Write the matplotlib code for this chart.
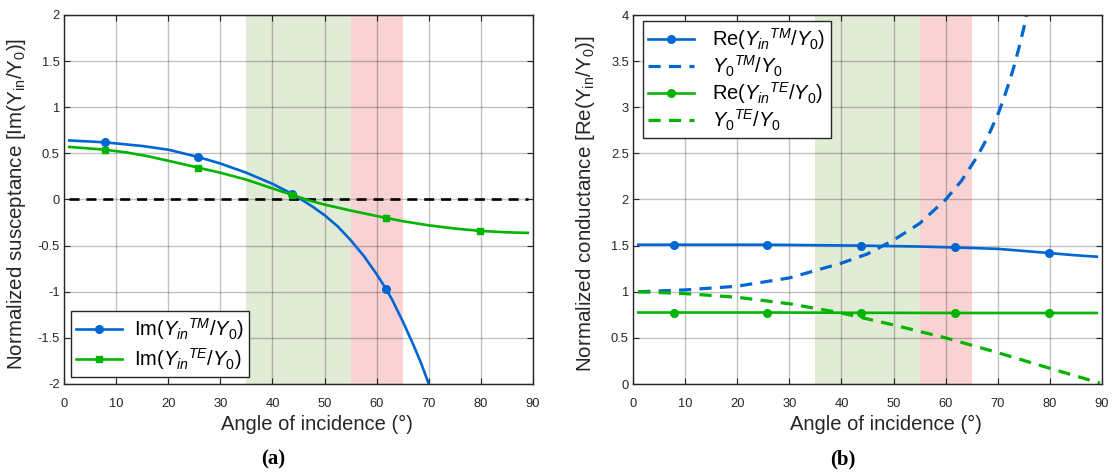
import matplotlib
matplotlib.use("Agg")
import matplotlib.pyplot as plt

plt.rcParams['font.family'] = ['Liberation Sans', 'DejaVu Sans']
plt.rcParams['mathtext.fontset'] = 'custom'
plt.rcParams['mathtext.rm'] = 'Liberation Sans'
plt.rcParams['mathtext.it'] = 'Liberation Sans:italic'
plt.rcParams['mathtext.bf'] = 'Liberation Sans:bold'
plt.rcParams['axes.unicode_minus'] = False

# ---- data ----
# (a) susceptance
im_tm_ang = [1, 7.8, 15, 20, 25.8, 30, 35, 40, 43.8, 45, 47.5, 50, 52.5, 55, 57.5, 60, 61.8, 63, 65, 67, 68.5, 70]
im_tm_val = [0.64, 0.62, 0.58, 0.54, 0.46, 0.39, 0.29, 0.17, 0.06, 0.02, -0.07, -0.17, -0.29, -0.44, -0.61, -0.81,
             -0.97, -1.09, -1.32, -1.57, -1.77, -2.0]
im_te_ang = [1, 7.8, 12, 16, 20, 25.8, 30, 35, 40, 43.8, 47, 50, 55, 61.8, 65, 70, 75, 79.8, 85, 89]
im_te_val = [0.57, 0.54, 0.51, 0.47, 0.42, 0.345, 0.29, 0.215, 0.12, 0.05, -0.01, -0.055, -0.12, -0.2, -0.235,
             -0.28, -0.315, -0.34, -0.356, -0.362]
zero_ang = [1, 89]
zero_val = [0, 0]

# (b) conductance
re_tm_ang = [1, 7.8, 25.8, 43.8, 55, 61.8, 70, 79.8, 85, 89]
re_tm_val = [1.51, 1.51, 1.51, 1.50, 1.49, 1.48, 1.465, 1.42, 1.395, 1.38]
re_te_ang = [1, 7.8, 25.8, 43.8, 61.8, 79.8, 89]
re_te_val = [0.775, 0.775, 0.775, 0.772, 0.77, 0.77, 0.77]
y0_tm_ang = [1, 10, 20, 30, 40, 45, 50, 55, 60, 63, 66, 68, 70, 71, 72, 73, 74, 75, 75.5]
y0_tm_val = [1.0, 1.02, 1.06, 1.15, 1.31, 1.41, 1.56, 1.74, 2.0, 2.2, 2.46, 2.67, 2.92, 3.07, 3.24, 3.42, 3.63,
             3.86, 4.0]
y0_te_ang = [1, 10, 20, 30, 40, 50, 60, 70, 80, 89.6]
y0_te_val = [1.0, 0.98, 0.94, 0.87, 0.77, 0.64, 0.5, 0.34, 0.17, 0.01]
marker_ang = [7.8, 25.8, 43.8, 61.8, 79.8]

green_band = (35, 55)
red_band = (55, 65)

BLUE = '#0066d2'
GREEN = '#00b400'
DARK = '#262626'
DASH = (0, (3.8, 2.6))


def marks(angles):
    return [i for i, a in enumerate(angles) if a in marker_ang]


def style_axes(ax, ylim, yticks, ylabels):
    ax.axvspan(*green_band, color='#e2ebd5', lw=0, zorder=0.5)
    ax.axvspan(*red_band, color='#f9d3d3', lw=0, zorder=0.5)
    ax.set_xlim(0, 90)
    ax.set_ylim(*ylim)
    ax.set_xticks(range(0, 91, 10))
    ax.set_yticks(yticks)
    ax.set_yticklabels(ylabels)
    ax.set_axisbelow('line')
    ax.grid(True, color='black', alpha=0.24, lw=1)
    ax.tick_params(direction='in', top=True, right=True, length=4,
                   labelsize=9.3, colors=DARK)
    ax.tick_params(axis='x', pad=10)
    ax.tick_params(axis='y', pad=3)
    for s in ax.spines.values():
        s.set_color(DARK)
        s.set_linewidth(1)
    ax.set_xlabel('Angle of incidence (°)', fontsize=14.5, color=DARK)
    ax.xaxis.set_label_coords(0.54, -0.085)


def add_legend(ax, loc, anchor, textpad, spacing):
    leg = ax.legend(loc=loc, bbox_to_anchor=anchor, fontsize=14.5, handlelength=2.3,
                    handletextpad=textpad, fancybox=False, framealpha=1,
                    edgecolor=DARK, borderpad=0.25, labelspacing=spacing,
                    borderaxespad=0)
    leg.get_frame().set_linewidth(1)
    return leg


fig = plt.figure(figsize=(11.15, 4.73), dpi=100)
ax1 = fig.add_axes([64 / 1115, 1 - 384 / 473, 469 / 1115, 369 / 473])
ax2 = fig.add_axes([633 / 1115, 1 - 384 / 473, 469 / 1115, 369 / 473])

# ---- (a) ----
style_axes(ax1, (-2, 2), [-2, -1.5, -1, -0.5, 0, 0.5, 1, 1.5, 2],
           ['-2', '-1.5', '-1', '-0.5', '0', '0.5', '1', '1.5', '2'])
ax1.plot(zero_ang, zero_val, color='black', ls=DASH, lw=1.9)
ax1.plot(im_tm_ang, im_tm_val, color=BLUE, lw=1.9, marker='o', ms=5.5,
         markevery=marks(im_tm_ang), label=r'Im($\mathit{Y_{in}{}^{TM}/Y_{0}}$)')
ax1.plot(im_te_ang, im_te_val, color=GREEN, lw=1.9, marker='s', ms=5,
         markevery=marks(im_te_ang), label=r'Im($\mathit{Y_{in}{}^{TE}/Y_{0}}$)')
ax1.set_ylabel(r'Normalized susceptance [Im(Y$_{\mathrm{in}}$/Y$_{\mathrm{0}}$)]',
               fontsize=14.8, color=DARK)
ax1.yaxis.set_label_coords(-0.077, 0.488)
add_legend(ax1, 'lower left', (0.015, 0.019), 0.6, 0.2)

# ---- (b) ----
style_axes(ax2, (0, 4), [0, 0.5, 1, 1.5, 2, 2.5, 3, 3.5, 4],
           ['0', '0.5', '1', '1.5', '2', '2.5', '3', '3.5', '4'])
ax2.plot(re_tm_ang, re_tm_val, color=BLUE, lw=1.9, marker='o', ms=5.5,
         markevery=marks(re_tm_ang), label=r'Re($\mathit{Y_{in}{}^{TM}/Y_{0}}$)')
ax2.plot(y0_tm_ang, y0_tm_val, color=BLUE, lw=2.3, ls=DASH,
         label=r'$\mathit{Y_{0}{}^{TM}/Y_{0}}$')
ax2.plot(re_te_ang, re_te_val, color=GREEN, lw=1.9, marker='o', ms=5.5,
         markevery=marks(re_te_ang), label=r'Re($\mathit{Y_{in}{}^{TE}/Y_{0}}$)')
ax2.plot(y0_te_ang, y0_te_val, color=GREEN, lw=2.3, ls=DASH,
         label=r'$\mathit{Y_{0}{}^{TE}/Y_{0}}$')
ax2.set_ylabel(r'Normalized conductance [Re(Y$_{\mathrm{in}}$/Y$_{\mathrm{0}}$)]',
               fontsize=14.8, color=DARK)
ax2.yaxis.set_label_coords(-0.077, 0.488)
add_legend(ax2, 'upper left', (0.021, 0.984), 0.9, 0.08)

fig.text(273 / 1115, 1 - 459 / 473, '(a)', ha='center', va='center',
         fontsize=15, family='Liberation Serif', weight='bold')
fig.text(843 / 1115, 1 - 459 / 473, '(b)', ha='center', va='center',
         fontsize=15, family='Liberation Serif', weight='bold')

fig.savefig('out.png', dpi=100)
